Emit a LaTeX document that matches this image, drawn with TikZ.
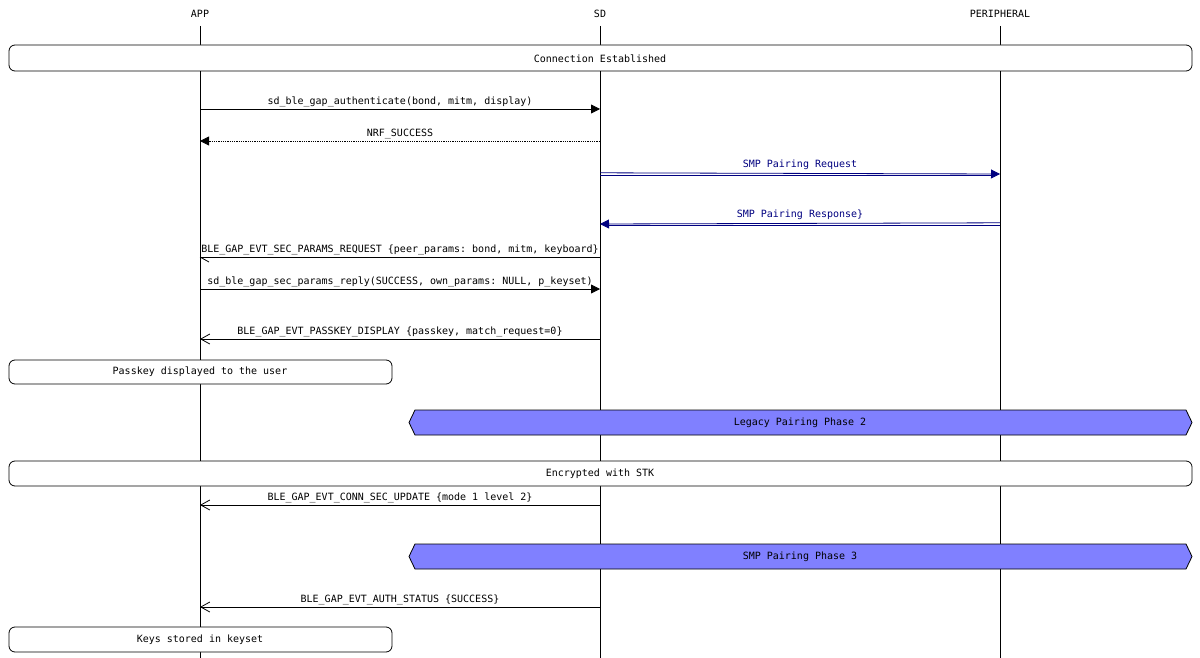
\documentclass[tikz,border=0pt]{standalone}
\usepackage{fontspec}
\setmonofont{DejaVu Sans Mono}
\usetikzlibrary{arrows.meta,shapes.misc}
\definecolor{hexfill}{HTML}{8080FF}
\definecolor{navyc}{HTML}{000080}
\begin{document}
\begin{tikzpicture}[x=1pt,y=-1pt,
  every node/.style={font=\ttfamily\fontsize{10}{12}\selectfont,inner sep=0pt},
  life/.style={draw=black,line width=0.8pt},
  rbox/.style={draw,fill=white,rounded corners=6pt,line width=0.8pt},
  hexbox/.style={draw,fill=hexfill,line width=0.8pt},
  call/.style={line width=0.8pt,-{Triangle[length=9pt,width=9pt]}},
  ret/.style={line width=0.8pt,densely dotted,-{Triangle[length=9pt,width=9pt]}},
  evt/.style={line width=0.8pt,-{Straight Barb[length=9pt,width=10pt,line width=0.8pt]}},
  smp/.style={navyc,line width=0.8pt,-{Triangle[length=9pt,width=9pt]}},
  smpline/.style={navyc,line width=0.8pt}]
\useasboundingbox (0,0) rectangle (1200,658);
\fill[white] (0,0) rectangle (1200,658);
\node (hA) at (200,14) {APP};
\node (hS) at (600,14) {SD};
\node (hP) at (1000,14) {PERIPHERAL};
\foreach \x/\n in {200/A,600/S,1000/P}{
  \coordinate (t\n) at (\x,26); \coordinate (b\n) at (\x,658);
  \draw[life] (t\n) -- (b\n);}
% boxes
\draw[rbox] (9,45) rectangle (1192,71);
\node at (600,59) {Connection Established};
\draw[rbox] (9,360) rectangle (392,384);
\node at (200,372) {Passkey displayed to the user};
\draw[hexbox] (415,410) -- (1186,410) -- (1192,422.5) -- (1186,435) -- (415,435) -- (409,422.5) -- cycle;
\node at (800,423) {Legacy Pairing Phase 2};
\draw[rbox] (9,461) rectangle (1192,486);
\node at (600,474) {Encrypted with STK};
\draw[hexbox] (415,544) -- (1186,544) -- (1192,556.5) -- (1186,569) -- (415,569) -- (409,556.5) -- cycle;
\node at (800,557) {SMP Pairing Phase 3};
\draw[rbox] (9,627) rectangle (392,652);
\node at (200,640) {Keys stored in keyset};
% messages
\foreach \y/\n in {109/1,141/2,174/3,224/4,257/5,289/6,339/7,505/8,607/9}{
  \coordinate (a\n) at (200,\y); \coordinate (s\n) at (600,\y); \coordinate (p\n) at (1000,\y);}
\draw[call] (a1) -- (s1) node[pos=0.5,above=2pt] {sd\_ble\_gap\_authenticate(bond, mitm, display)};
\draw[ret] (s2) -- (a2) node[pos=0.5,above=2pt] {NRF\_SUCCESS};
\draw[smpline] ([yshift=-1.2pt]s3) -- ([yshift=-1.2pt,xshift=-8pt]p3);
\draw[smp] ([yshift=1.2pt]s3) -- ([yshift=0pt]p3) node[pos=0.5,above=3pt] {SMP Pairing Request};
\draw[smpline] ([yshift=-1.2pt]p4) -- ([yshift=-1.2pt,xshift=8pt]s4);
\draw[smp] ([yshift=1.2pt]p4) -- ([yshift=0pt]s4) node[pos=0.5,above=3pt] {SMP Pairing Response\}};
\draw[line width=0.8pt] (s5) -- (a5) node[pos=0.5,above=2pt] {BLE\_GAP\_EVT\_SEC\_PARAMS\_REQUEST \{peer\_params: bond, mitm, keyboard\}};
\draw[line width=0.8pt] (a5) -- ++(9,5);
\draw[call] (a6) -- (s6) node[pos=0.5,above=2pt] {sd\_ble\_gap\_sec\_params\_reply(SUCCESS, own\_params: NULL, p\_keyset)};
\draw[evt] (s7) -- (a7) node[pos=0.5,above=2pt] {BLE\_GAP\_EVT\_PASSKEY\_DISPLAY \{passkey, match\_request=0\}};
\draw[evt] (s8) -- (a8) node[pos=0.5,above=2pt] {BLE\_GAP\_EVT\_CONN\_SEC\_UPDATE \{mode 1 level 2\}};
\draw[evt] (s9) -- (a9) node[pos=0.5,above=2pt] {BLE\_GAP\_EVT\_AUTH\_STATUS \{SUCCESS\}};
\end{tikzpicture}
\end{document}
